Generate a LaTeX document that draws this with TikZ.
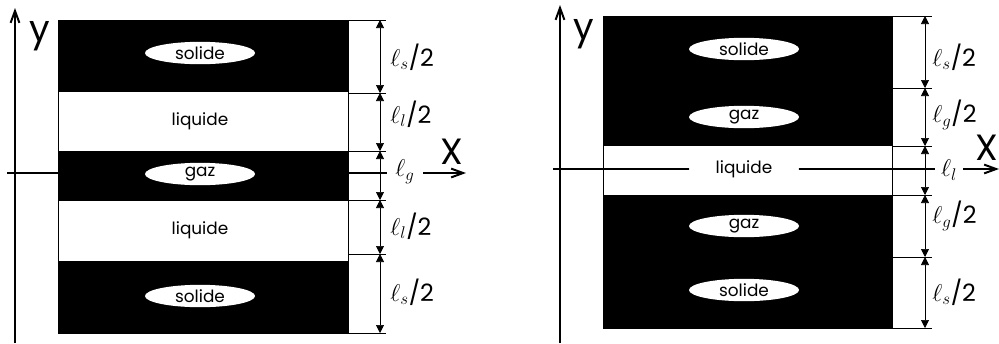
\documentclass[tikz,border=0pt]{standalone}
\usepackage{fontspec}
\setmainfont{Poppins}
\usetikzlibrary{arrows.meta,shapes.geometric}
\tikzset{
  every node/.style={font=\fontsize{12}{14}\selectfont,text=black},
  layer/.style={draw=black,line width=.5pt,fill=white},
  band/.style={fill=black},
  blob/.style={ellipse,fill=white,minimum width=27.5mm,minimum height=5.6mm,inner sep=0},
  axis/.style={-{Straight Barb[length=3mm,width=2.2mm]},line width=1.4pt},
  dim/.style={{Triangle[length=2mm,width=2mm]}-{Triangle[length=2mm,width=2mm]},line width=.5pt},
  tick/.style={line width=.5pt},
  dimlabel/.style={font=\fontsize{17}{20}\selectfont,anchor=west,inner sep=0},
  axislabel/.style={font=\fontsize{26}{30}\selectfont,inner sep=0}
}
\begin{document}
\begin{tikzpicture}[x=0.25mm,y=-0.25mm]
\path[use as bounding box] (0,0) rectangle (999,343);
% left: gas layer between two liquid layers
\draw[layer] (58,20) rectangle (348,333);
\fill[band] (58,20) rectangle (348,92);
\fill[band] (58,151) rectangle (348,201);
\fill[band] (58,261) rectangle (348,333);
\coordinate (ly0) at (15,343);
\coordinate (ly1) at (15,8);
\coordinate (lx0) at (7,173);
\coordinate (lx1) at (466,173);
\draw[axis] (ly0) -- (ly1);
\draw[axis] (lx0) -- (lx1);
\node[axislabel] (ylabl) at (40,36) {y};
\node[axislabel] (xlabl) at (452,152) {X};
\node[blob] (solidl1) at (200,53) {solide};
\node[blob] (liquidl1) at (200,121) {liquide};
\node[blob] (gazl) at (200,174) {gaz};
\node[blob] (liquidl2) at (200,230) {liquide};
\node[blob] (solidl2) at (200,296) {solide};
% left dimensions
\coordinate (la0) at (380,20);
\coordinate (la1) at (380,93);
\coordinate (la2) at (380,151);
\coordinate (la3) at (380,200);
\coordinate (la4) at (380,254);
\coordinate (la5) at (380,333);
\draw[tick] (348,20) -- (386,20);
\draw[tick] (348,93) -- (386,93);
\draw[tick] (348,151) -- (386,151);
\draw[tick] (348,200) -- (386,200);
\draw[tick] (348,254) -- (386,254);
\draw[tick] (348,333) -- (386,333);
\draw[dim] (la0) -- (la1);
\draw[dim] (la1) -- (la2);
\draw[dim] (la2) -- (la3);
\draw[dim] (la3) -- (la4);
\draw[dim] (la4) -- (la5);
\node[dimlabel] (lda) at (390,57) {$\ell_s$/2};
\node[dimlabel] (ldb) at (390,114) {$\ell_l$/2};
\node[dimlabel,anchor=center,fill=white,inner xsep=2mm,inner ysep=.5mm] (ldc) at (405,172) {$\ell_g$};
\node[dimlabel] (ldd) at (390,226) {$\ell_l$/2};
\node[dimlabel] (lde) at (390,292) {$\ell_s$/2};
% right: liquid layer between two gas layers
\draw[layer] (603,16) rectangle (892,328);
\fill[band] (603,16) rectangle (892,146);
\fill[band] (603,195) rectangle (892,328);
\coordinate (ry0) at (560,343);
\coordinate (ry1) at (560,5);
\coordinate (rx0) at (553,169);
\coordinate (rx1) at (999,169);
\draw[axis] (ry0) -- (ry1);
\draw[axis] (rx0) -- (rx1);
\node[axislabel] (ylabr) at (584,34) {y};
\node[axislabel] (xlabr) at (987,148) {X};
\node[blob] (solidr1) at (744,49) {solide};
\node[blob] (gazr1) at (744,117) {gaz};
\node[blob] (liquidr) at (744,169) {liquide};
\node[blob] (gazr2) at (744,226) {gaz};
\node[blob] (solidr2) at (744,290) {solide};
% right dimensions
\coordinate (ra0) at (925,16);
\coordinate (ra1) at (925,88);
\coordinate (ra2) at (925,146);
\coordinate (ra3) at (925,195);
\coordinate (ra4) at (925,257);
\coordinate (ra5) at (925,328);
\draw[tick] (892,16) -- (932,16);
\draw[tick] (892,88) -- (932,88);
\draw[tick] (892,146) -- (932,146);
\draw[tick] (892,195) -- (932,195);
\draw[tick] (892,257) -- (932,257);
\draw[tick] (892,328) -- (932,328);
\draw[dim] (ra0) -- (ra1);
\draw[dim] (ra1) -- (ra2);
\draw[dim] (ra2) -- (ra3);
\draw[dim] (ra3) -- (ra4);
\draw[dim] (ra4) -- (ra5);
\node[dimlabel] (rda) at (932,57) {$\ell_s$/2};
\node[dimlabel] (rdb) at (932,115) {$\ell_g$/2};
\node[dimlabel,anchor=center,fill=white,inner xsep=1.6mm,inner ysep=.5mm] (rdc) at (949,170) {$\ell_l$};
\node[dimlabel] (rdd) at (932,216) {$\ell_g$/2};
\node[dimlabel] (rde) at (932,292) {$\ell_s$/2};
\end{tikzpicture}
\end{document}
